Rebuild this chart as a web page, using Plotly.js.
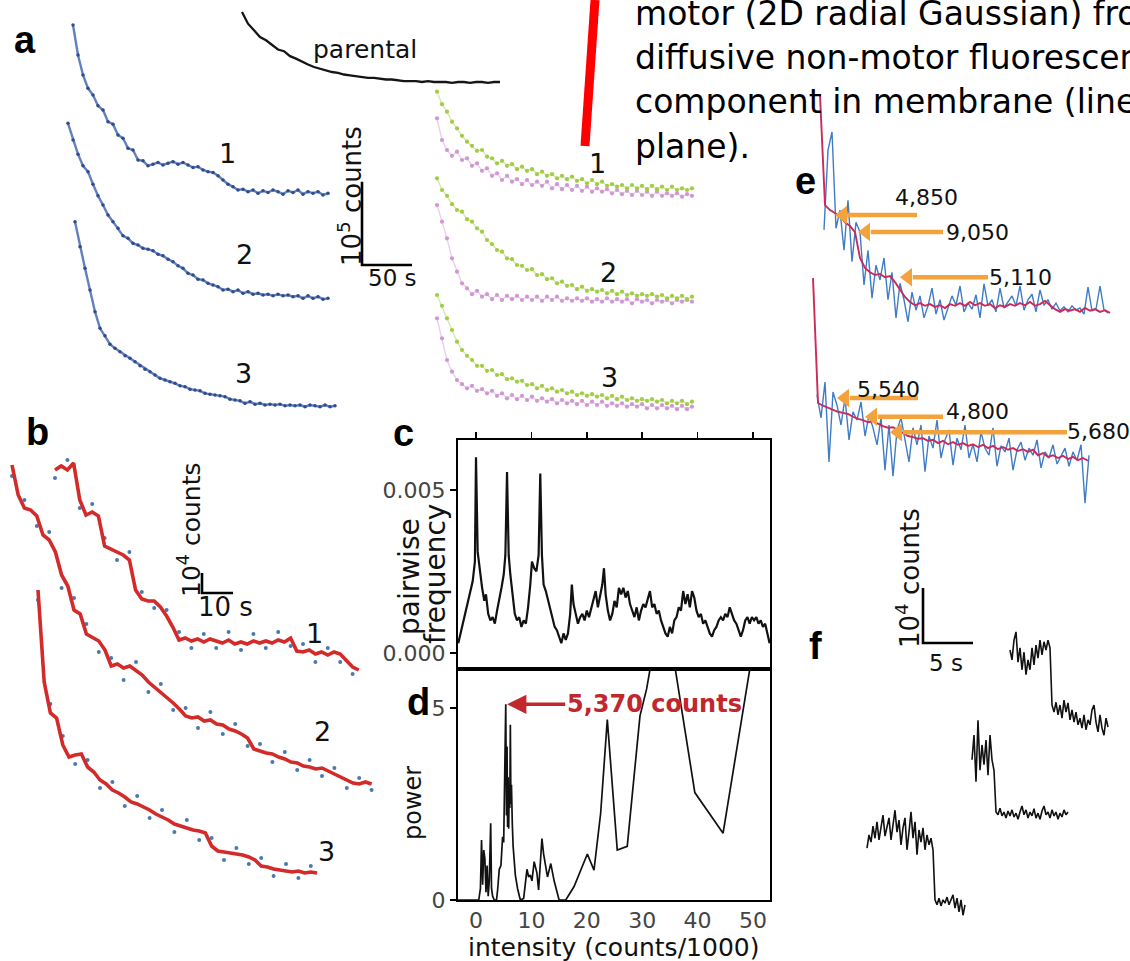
<!DOCTYPE html>
<html><head><meta charset="utf-8">
<script src="https://cdn.plot.ly/plotly-3.0.1.min.js"></script>
<style>html,body{margin:0;padding:0;background:#fff;}#fig{width:1130px;height:961px;}</style>
</head><body><div id="fig"></div>
<script>
// ================= DATA =================
// Panel a: photobleaching traces, counts in thousands (k counts), sampled every dt seconds
const A_DT_PARENTAL = 6;
const a_parental_k = [120,106,98,90,86,81,75,73,67,64,60,57,54,52,50,48,47,45,44,43,42,41,41,40,39,39,38,37,37,37,36,37,36,36,36,35,36,36,35,36,36,35,36,36];
const A_DT = 5;
const a_blue1_k = [228,192,168,152,144,131,126,112,109,96,92,80,78,66,65,59,61,63,60,62,64,61,63,60,57,58,54,52,51,47,42,37,34,30,31,28,30,26,29,27,30,28,25,29,27,30,25,28,26,28,24,26];
const a_blue2_k = [236,216,199,185,178,163,149,138,126,118,110,101,98,92,90,86,85,83,79,77,73,70,65,62,56,54,49,48,44,42,40,36,37,34,36,32,34,31,32,30,31,29,31,29,30,28,29,26,29,26,28,25,26];
const a_blue3_k = [250,220,194,168,142,122,113,103,98,94,89,86,82,77,73,70,66,62,60,58,56,53,52,49,48,47,44,43,42,41,40,37,36,35,32,34,31,32,30,31,30,31,29,30,29,30,28,30,29,28,30,28,29];
const a_green1_k = [148,133,124,112,104,95,88,83,77,78,70,68,62,65,59,61,55,58,53,55,49,52,47,49,44,47,43,46,41,43,38,42,37,40,35,37,34,36,32,36,32,35,31,35,31,34,30,34,30,32,30,32];
const a_purple1_k = [116,90,78,71,76,66,68,59,62,53,56,47,50,42,47,40,43,37,42,36,40,35,40,32,37,31,36,30,35,29,34,28,32,28,31,26,30,25,29,24,29,24,28,23,28,23,26,23,26,22,25,23];
const a_green2_k = [170,156,149,139,132,130,121,118,110,106,96,91,84,82,74,73,66,65,60,61,54,55,49,50,44,46,41,42,37,40,35,37,34,36,32,35,31,34,30,32,29,31,29,31,28,30,26,29,26,29,25,28];
const a_purple2_k = [138,118,98,74,58,44,38,31,35,28,31,25,30,24,29,25,29,24,28,24,28,23,28,24,28,23,26,23,26,23,26,22,25,22,26,22,25,22,25,20,25,22,24,20,24,22,24,20,24,22,24,22];
const a_green3_k = [162,149,134,120,106,96,89,84,77,77,71,72,66,67,61,62,58,59,54,55,50,53,48,50,46,48,44,46,42,44,41,43,40,42,38,41,37,40,36,38,35,37,35,37,34,36,32,35,32,35,31,34];
const a_purple3_k = [134,110,84,70,60,55,50,53,47,49,44,47,41,44,38,42,37,41,36,40,35,38,34,37,32,36,32,35,31,35,30,34,30,34,29,32,29,32,28,31,28,31,26,30,26,30,26,29,25,29,25,28];
const A_SCALE_S = 50, A_SCALE_K = 100;   // 50 s, 10^5 counts

// Panel b: step traces (fit every 2 s, raw every 4 s), k counts
const B_DT_FIT = 2, B_DT_RAW = 4;
const b1_fit = [105,107,105,108.5,90,82.5,84,82,67,65.5,64,62.5,60,45,40.5,39.5,39.5,36.5,32,26.5,20,21,19.5,20.5,19,20.5,19.5,18.5,20,18,19,18,19.5,18.5,19.5,18.5,20,19,21,14.5,14,15,13,14,12.5,14,13,10,6.5,5];
const b1_raw = [101,110,86,88,71,60,64,44,36,35,24,16,23,16,24,15,23,16,24,17,18,9,16,9,3];
const b2_fit = [167.5,152.5,146,145,142,132.5,130,124,112.5,107,95,93,83,81,79.5,75,67,68,66,67,64.5,62.5,59,56.5,54,51.5,48.5,45.5,42,41,41.5,39.5,40,38,37.5,35.5,34.5,33,31,25.5,24.5,23.5,23,21.5,20.5,19,18.5,17,16.5,15.5,16,14.5,13,11.5,10,8.5,8,9,8];
const b2_raw = [162,150,137,134,106,101,88,74,71,60,69,54,58,45,46,36,44,33,38,27,28,19,24,15,20,12,16,6,11,5];
const b3_fit = [155,109,93.5,91,77.5,71.5,72.5,73,66.5,64,60,58,55,53.5,51.5,49,48,46.5,45,43,41.5,40,38,37,36,35,34.5,33.5,27,24.5,24,23.5,23,22.5,21.5,20,17,16.5,15.5,15,14.5,14,14.5,13.5,14,13.5];
const b3_raw = [150,98,82,68,70,56,59,47,52,41,45,34,40,30,31,20,26,18,21,12,18,11,17];
const B_SCALE_S = 10, B_SCALE_K = 10;    // 10 s, 10^4 counts

// Panel c: pairwise difference histogram
const c_intensity = [-3.2,-2.5,-1.8,-1.2,-0.6,-0.2,0,0.3,0.7,1.1,1.5,1.8,2.2,2.6,3,3.4,3.8,4.2,4.6,5,5.3,5.6,5.9,6.2,6.6,7,7.4,7.8,8.2,8.6,9,9.4,9.8,10.1,10.5,10.9,11.3,11.6,11.9,12.2,12.6,13,13.4,13.8,14.2,14.6,15,15.4,15.8,16.2,16.6,17,17.3,17.6,18,18.4,18.8,19.2,19.6,20,20.4,20.8,21.2,21.6,22,22.4,22.8,23.1,23.4,23.8,24.2,24.6,25,25.4,25.8,26.2,26.6,27,27.4,27.8,28.2,28.6,29,29.4,29.8,30.2,30.6,31,31.4,31.8,32.2,32.6,33,33.4,33.8,34.2,34.6,35,35.4,35.8,36.2,36.6,37,37.4,37.8,38.2,38.6,39,39.4,39.8,40.2,40.6,41,41.4,41.8,42.2,42.6,43,43.4,43.8,44.2,44.6,45,45.4,45.8,46.2,46.6,47,47.4,47.8,48.2,48.6,49,49.4,49.8,50.2,50.6,51,51.4,51.8,52.2,52.6,53];
const c_frequency = [0.0003,0.0008,0.0013,0.0018,0.0022,0.0028,0.0060,0.0031,0.0025,0.0020,0.0016,0.0018,0.0012,0.0010,0.0011,0.0009,0.0013,0.0016,0.0020,0.0024,0.0030,0.00555,0.0030,0.0024,0.0018,0.0012,0.0010,0.0011,0.0008,0.0010,0.0009,0.0014,0.0021,0.0028,0.0026,0.0025,0.0030,0.0055,0.0030,0.0021,0.0019,0.0016,0.0013,0.0010,0.0008,0.0007,0.0005,0.0003,0.0006,0.0004,0.0006,0.0012,0.0021,0.0015,0.0012,0.0009,0.0011,0.0012,0.0010,0.0013,0.0011,0.0014,0.0016,0.0019,0.0014,0.0018,0.0021,0.0026,0.0018,0.0013,0.0010,0.0012,0.0016,0.0014,0.0020,0.0018,0.0020,0.0017,0.0019,0.0015,0.0013,0.0011,0.0014,0.0010,0.0013,0.0015,0.0014,0.0017,0.0019,0.0014,0.0015,0.0012,0.0013,0.0010,0.0008,0.0006,0.0005,0.0008,0.0006,0.0010,0.0011,0.0014,0.0013,0.0019,0.0015,0.0018,0.0014,0.0019,0.0017,0.0013,0.0011,0.0012,0.0009,0.0010,0.0008,0.0006,0.0005,0.0007,0.0008,0.0010,0.0011,0.0010,0.0012,0.0011,0.0014,0.0012,0.0010,0.0009,0.0007,0.0005,0.0007,0.0010,0.0011,0.0009,0.0011,0.0010,0.0011,0.0009,0.0010,0.0008,0.0009,0.0006,0.0003];

// Panel d: power spectrum
const d_intensity = [-3.3,0.5,0.8,1.0,1.2,1.4,1.6,1.8,2.0,2.2,2.4,2.65,2.8,3.0,3.3,3.7,3.9,4.2,4.5,4.8,5.0,5.15,5.37,5.5,5.6,5.7,5.8,5.9,6.0,6.1,6.2,6.3,6.4,6.55,6.7,7.1,7.5,8.0,8.6,9.2,9.5,9.8,10.1,10.5,10.8,11.0,11.3,11.6,11.9,12.2,12.4,12.9,13.5,14.1,15.0,16.2,17.7,18.9,20.1,21.3,22.5,23.7,25.5,27.3,29.6,30.8,33.8,39.5,44.6,49.4,51.0];
const d_power = [0,0,0.3,1.56,0.4,1.3,1.08,0.2,0.9,0.1,0.5,2.0,0.3,0.1,0,0,0.26,0.8,0.9,1.65,1.5,3.0,5.1,2.2,4.0,1.9,3.2,1.86,3.0,2.4,4.57,2.5,3.0,2.0,1.4,0.65,0.3,0,0.04,0.8,0.6,0.65,0.5,1.0,0.85,0.7,0.26,1.0,1.6,1.2,1.0,0.6,0.95,0.5,0,0,0.35,0.78,1.2,0.78,2.26,4.7,1.3,1.4,4.8,5.5,8.0,2.8,1.74,6.0,7.4];
const d_peak = {intensity: 5.37, power: 5.1, label: '5,370 counts'};

// Panel e: raw (blue) and filtered (red) traces, k counts
const E_DT_FIT = 0.5, E_DT_RAW = 0.4;
const e1_fit = [42.7,22.7,21.8,21.3,20.7,19.6,18.9,17.8,13.1,11.3,10.5,10,10.2,9.6,9.8,8.7,7.3,6,5.1,4.5,4.9,4.4,4.7,4.2,4.5,4,4.7,4.4,4.9,4.4,5.1,4.5,4.9,4.4,4.7,4,4.5,4.2,4.7,4.4,4.9,4.5,5.1,4.4,4.7,5.3,4.5,3.8,3.3,3.8,3.5,3.8,3.3,4,3.5,3.8,3.3,3.6,3.1];
const e1_raw = [18.2,32.7,36,18.5,21.8,14.5,23.6,12.4,19.6,17.8,8.2,14.5,5.8,11.8,9.1,13.1,5.5,10.5,2.2,8.5,5.5,1.5,6.9,3.6,6.2,2.2,4.4,7.6,2.9,5.5,1.8,4,6.2,4.5,8,3.3,4.9,3.8,6.4,2.2,8.4,4.4,5.5,3.3,7.6,4,5.1,6.2,4.4,8,3.6,5.5,6.5,3.3,7.3,4.5,5.5,3.8,4.9,3.5,4.2,3.3,4.4,3.6,4,2.9,7.8,3.5,3.8,8,3.6,3.1];
const e2_fit = [36.7,14,13.5,13.1,12.7,12.4,12.2,12,11.5,11.1,10.9,10.5,10.7,10.2,9.8,9.5,9.6,9.1,8.5,8,7.8,7.5,7.6,7.1,7.3,6.7,7.1,6.5,6.9,6.4,6.7,6.2,6.5,6,6.4,5.8,6.2,5.6,6,5.5,5.8,5.3,5.6,5.1,5.5,4.5,4.9,4.2,4.5,4,4.4,3.8,4.2,3.6,4,3.5];
const e2_raw = [15.5,11.3,17.8,3.3,16,13.6,10,14.9,7.3,12.4,10.9,14.2,8,11.8,9.5,6.4,11.3,1.8,10,0.7,9.1,11.3,7.3,3.3,9.5,6.4,10,1.5,8,5.8,10.9,4,7.3,9.1,2.7,7.6,5.5,10,4,6.5,3.3,8.7,5.8,4.5,9.5,2.5,6.2,5.1,7.6,1.8,5.5,6.9,3.6,5.8,4.5,7.3,2.2,5.1,4,6.4,2.9,4.5,5.8,2.5,5.1,3.6,6.4,-4.2,4.5];
const e1_steps = [{t:1.5, k:20.9, label:'4,850'}, {t:3.8, k:17.8, label:'9,050'}, {t:8.0, k:9.6, label:'5,110'}];
const e2_steps = [{t:2.4, k:14.9, label:'5,540'}, {t:5.2, k:11.5, label:'4,800'}, {t:7.7, k:8.7, label:'5,680'}];

// Panel f: single-step traces, k counts every 0.2 s
const F_DT = 0.2;
const f1_k = [20,18.2,21.8,23.3,17.8,20.4,16.4,19.6,15.5,18.2,16.4,20.4,17.3,20.9,18.5,21.8,19.1,21.5,20,21.8,20.4,10,8.7,10.5,8.2,10,7.6,10.9,8.7,10.4,7.3,9.1,6.9,8.7,6.4,7.6,5.8,8.2,5.5,7.3,6.4,9.1,10,6.9,5.1,8.2,5.8,4.5,7.6,6];
const f2_k = [16.4,20.9,12.4,23.6,14.5,19.1,15.5,20,13.6,20.9,16.4,14.5,6.9,6.4,7.6,6.2,6.9,5.8,7.1,6.2,7.3,6,6.7,5.6,6.9,8,6.4,7.3,5.8,6.9,6.2,7.5,5.8,6.7,5.6,7.1,8,6.4,6.9,5.8,7.3,6.2,6.9,5.6,6.7,6,7.3,6.4,6.9];
const f3_k = [16.7,19.1,17.8,20.7,18.5,21.5,18.2,20.4,22.7,18.9,20.9,22.2,18.2,21.5,23.6,19.6,21.8,17.3,20.4,22.2,16.4,19.6,23.3,18.5,21.5,15.5,20,17.8,20.4,16.4,19.1,17.3,18.5,16.4,7.3,6.4,7.6,6.2,7.3,6.7,7.8,6.4,7.3,8.2,5.8,7.6,5.1,7.3,4.5,6.4];
const F_SCALE_S = 5, F_SCALE_K = 10;     // 5 s, 10^4 counts

const c_ticks = [0, 10, 20, 30, 40, 50];

// ================= LAYOUT / DRAWING =================
const W = 1130, H = 961;
const FONT = 'DejaVu Sans, Liberation Sans, Arial, sans-serif';
const BOLD = 'Liberation Sans, Arial, sans-serif';
const layout = {width:W, height:H, margin:{l:0,r:0,t:0,b:0,pad:0}, paper_bgcolor:'#ffffff',
  plot_bgcolor:'rgba(0,0,0,0)', showlegend:false, annotations:[], shapes:[], hovermode:false};
const traces = [];
let nAx = 0;
function nextId(){ nAx++; return nAx === 1 ? '' : String(nAx); }
// hidden axes spanning the full page: origin (ox,oy) in px, sx/sy px per unit
function panelAxes(ox, oy, sx, sy){
  const s = nextId();
  const base = {visible:false, showgrid:false, zeroline:false, fixedrange:true, domain:[0,1]};
  layout['xaxis'+s] = Object.assign({range:[-ox/sx, (W-ox)/sx], anchor:'y'+s}, base);
  layout['yaxis'+s] = Object.assign({range:[-(H-oy)/sy, oy/sy], anchor:'x'+s}, base);
  return {xaxis:'x'+s, yaxis:'y'+s, sx:sx, sy:sy};
}
function realAxes(xo, yo){
  const s = nextId();
  layout['xaxis'+s] = Object.assign({anchor:'y'+s}, xo);
  layout['yaxis'+s] = Object.assign({anchor:'x'+s}, yo);
  return {xaxis:'x'+s, yaxis:'y'+s};
}
function series(ax, y, x0, dx, style){
  traces.push(Object.assign({type:'scatter', y:y, x0:x0, dx:dx, xaxis:ax.xaxis, yaxis:ax.yaxis, hoverinfo:'skip'}, style));
}
function scaleBar(ax, s, k){
  traces.push({type:'scatter', mode:'lines', x:[0,0,s], y:[k,0,0], xaxis:ax.xaxis, yaxis:ax.yaxis,
    line:{color:'#000', width:2.6}, hoverinfo:'skip'});
}
function T(x, y, text, size, extra){
  return Object.assign({xref:'paper', yref:'paper', x:x/W, y:1-y/H, text:text, showarrow:false,
    xanchor:'center', yanchor:'middle', font:{family:FONT, size:size, color:'#111'}}, extra || {});
}
const ann = layout.annotations;

// ---- styles
const sParental = {mode:'lines', line:{color:'#151515', width:2.3}};
const sBlueA = {mode:'lines+markers', line:{color:'rgba(72,104,178,0.85)', width:2.4}, marker:{color:'#2f4d8c', size:3.5}};
const sGreen = {mode:'lines+markers', line:{color:'rgba(165,205,80,0.45)', width:1.4}, marker:{color:'#a2cc44', size:4.2}};
const sPurple = {mode:'lines+markers', line:{color:'rgba(205,150,210,0.45)', width:1.4}, marker:{color:'#cf98d2', size:4.2}};
const sBRaw = {mode:'markers', marker:{color:'#4a78b0', size:4}};
const sBFit = {mode:'lines', line:{color:'#d32a2a', width:3.6}};
const sERaw = {mode:'lines', line:{color:'#3f7cc6', width:1.4}};
const sEFit = {mode:'lines', line:{color:'#cc2a58', width:1.9}};
const sF = {mode:'lines', line:{color:'#111', width:1.6}};

// ---- panel a (1 px per s, 1.2 k counts per px)
const aSx = 1, aSy = 1/1.2;
series(panelAxes(242,112,aSx,aSy), a_parental_k, 0, A_DT_PARENTAL, sParental);
series(panelAxes(73,215,aSx,aSy), a_blue1_k, 0, A_DT, sBlueA);
series(panelAxes(68,320,aSx,aSy), a_blue2_k, 0, A_DT, sBlueA);
series(panelAxes(75,430,aSx,aSy), a_blue3_k, 0, A_DT, sBlueA);
[[215,a_purple1_k,a_green1_k],[320,a_purple2_k,a_green2_k],[430,a_purple3_k,a_green3_k]].forEach(function(r){
  const ax = panelAxes(437, r[0], aSx, aSy);
  series(ax, r[1], 0, A_DT, sPurple);
  series(ax, r[2], 0, A_DT, sGreen);
});
scaleBar(panelAxes(362,265,aSx,aSy), A_SCALE_S, A_SCALE_K);

// ---- panel b (3.1 px per s, 2 px per k)
const bSx = 3.1, bSy = 2;
[[55,680,b1_raw,b1_fit],[12,800,b2_raw,b2_fit],[38,900,b3_raw,b3_fit]].forEach(function(r){
  const ax = panelAxes(r[0], r[1], bSx, bSy);
  series(ax, r[2], 0, B_DT_RAW, sBRaw);
  series(ax, r[3], 0, B_DT_FIT, sBFit);
});
scaleBar(panelAxes(202,593,bSx,bSy), B_SCALE_S, B_SCALE_K);

// ---- panel e and f (10 px per s, 5.5 px per k)
const eSx = 10, eSy = 5.5;
const eAx1 = panelAxes(820,330,eSx,eSy);
series(eAx1, e1_raw, E_DT_RAW, E_DT_RAW, sERaw);
series(eAx1, e1_fit, 0, E_DT_FIT, sEFit);
const eAx2 = panelAxes(813,480,eSx,eSy);
series(eAx2, e2_raw, E_DT_RAW, E_DT_RAW, sERaw);
series(eAx2, e2_fit, 0, E_DT_FIT, sEFit);
series(panelAxes(1010,760,eSx,eSy), f1_k, 0, F_DT, sF);
series(panelAxes(972,850,eSx,eSy), f2_k, 0, F_DT, sF);
series(panelAxes(867,940,eSx,eSy), f3_k, 0, F_DT, sF);
scaleBar(panelAxes(923,643,eSx,eSy), F_SCALE_S, F_SCALE_K);

// e arrows (shaft + head drawn as traces, pointing at the step level)
const ORANGE = '#f3a23c';
const arrowLenPx = [[82,85,88],[81,78,177]];
const HEAD = 16;
[[eAx1,e1_steps],[eAx2,e2_steps]].forEach(function(p, pi){
  p[1].forEach(function(st, i){
    const ax = p[0];
    traces.push({type:'scatter', mode:'lines', x:[st.t + HEAD*0.8/ax.sx, st.t + arrowLenPx[pi][i]/ax.sx], y:[st.k, st.k],
      xaxis:ax.xaxis, yaxis:ax.yaxis, line:{color:ORANGE, width:4.5}, hoverinfo:'skip'});
    traces.push({type:'scatter', mode:'markers', x:[st.t + HEAD*0.5/ax.sx], y:[st.k], xaxis:ax.xaxis, yaxis:ax.yaxis,
      marker:{symbol:'triangle-left', size:HEAD, color:ORANGE, line:{width:0}}, hoverinfo:'skip'});
  });
});
ann.push(T(926,197,'4,850',22), T(977,233,'9,050',22), T(1020,277,'5,110',22),
         T(888,389,'5,540',22), T(977,412,'4,800',22), T(1098,432,'5,680',22));

// ---- panels c and d (real axes)
const CD_X = [458/W, 770/W];
const X_RANGE = [-3.25, 53.07];
const axBase = {showgrid:false, zeroline:false, showline:true, linecolor:'#000', linewidth:2, mirror:true,
  fixedrange:true, tickfont:{family:FONT, size:22, color:'#444'}, tickcolor:'#000', tickwidth:1.5};
const cAx = realAxes(
  Object.assign({}, axBase, {domain:CD_X, range:X_RANGE, side:'top', ticks:'', tickvals:[], showticklabels:false,
    minor:{tickmode:'array', tickvals:c_ticks, ticks:'outside', ticklen:6, tickcolor:'#000', tickwidth:1.5, showgrid:false}}),
  Object.assign({}, axBase, {domain:[1-669/H, 1-440/H], range:[-0.00049, 0.00653], ticks:'outside', ticklen:6,
    tickvals:[0, 0.005], ticktext:['0.000','0.005']}));
traces.push({type:'scatter', mode:'lines', x:c_intensity, y:c_frequency, xaxis:cAx.xaxis, yaxis:cAx.yaxis,
  line:{color:'#111', width:2.2}, hoverinfo:'skip'});
const dAx = realAxes(
  Object.assign({}, axBase, {domain:CD_X, range:X_RANGE, ticks:'', tickvals:c_ticks}),
  Object.assign({}, axBase, {domain:[1-900/H, 1-669/H], range:[0, 6.02], ticks:'outside', ticklen:6, tickvals:[0,5]}));
traces.push({type:'scatter', mode:'lines', x:d_intensity, y:d_power, xaxis:dAx.xaxis, yaxis:dAx.yaxis,
  line:{color:'#111', width:1.7}, hoverinfo:'skip'});
ann.push({xref:dAx.xaxis, yref:dAx.yaxis, x:d_peak.intensity + 0.25, y:d_peak.power, ax:58, ay:0, xanchor:'left',
  text:'<b>' + d_peak.label + '</b>', font:{family:FONT, size:24, color:'#c1272d'},
  showarrow:true, arrowhead:2, arrowsize:1.1, arrowwidth:3.5, arrowcolor:'#c1272d', standoff:0});

// axis titles (c,d)
ann.push(T(409,576,'pairwise',28,{textangle:-90}), T(435,574,'frequency',28,{textangle:-90}),
         T(413,803,'power',24,{textangle:-90}), T(613,947,'intensity (counts/1000)',25));

// ---- other texts
const letter = {font:{family:BOLD, size:38, color:'#000'}};
ann.push(T(25,40,'<b>a</b>',38,letter), T(37,432,'<b>b</b>',38,letter), T(403,433,'<b>c</b>',38,letter),
         T(418,702,'<b>d</b>',38,letter), T(805,181,'<b>e</b>',38,letter), T(815,646,'<b>f</b>',38,letter));
ann.push(T(365,50,'parental',25),
         T(227,153,'1',27), T(244,255,'2',27), T(243,373,'3',27),
         T(597,163,'1',27), T(608,272,'2',27), T(609,378,'3',27),
         T(350,196,'10<sup>5</sup> counts',26,{textangle:-90}), T(392,278,'50 s',23),
         T(314,633,'1',27), T(322,731,'2',27), T(326,851,'3',27),
         T(189,530,'10<sup>4</sup> counts',25,{textangle:-90}), T(225,607,'10 s',26),
         T(908,578,'10<sup>4</sup> counts',26,{textangle:-90}), T(946,663,'5 s',23));
// slide text (top right)
const slide = {xanchor:'left', font:{family:FONT, size:33, color:'#000'}};
ann.push(T(633,14,'motor (2D radial Gaussian) from',33,slide),
         T(633,57,'diffusive non-motor fluorescence',33,slide),
         T(633,102,'component in membrane (linear',33,slide),
         T(633,146,'plane).',33,slide));
layout.shapes.push({type:'line', xref:'paper', yref:'paper', x0:595/W, y0:1, x1:585/W, y1:1-146/H,
  line:{color:'#ff0000', width:9}});

Plotly.newPlot('fig', traces, layout, {staticPlot:true, displayModeBar:false});
</script></body></html>
